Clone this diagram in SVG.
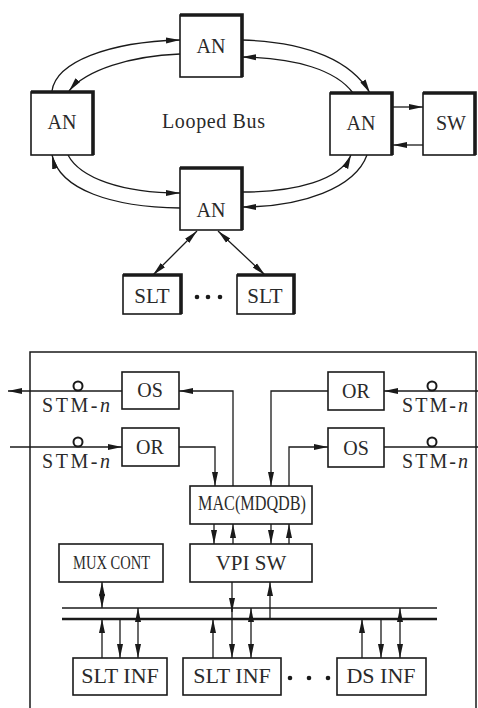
<svg xmlns="http://www.w3.org/2000/svg" width="478" height="708" viewBox="0 0 478 708">
<defs>
<marker id="ah" markerUnits="userSpaceOnUse" markerWidth="14" markerHeight="8" viewBox="0 0 14 8" refX="14" refY="4" orient="auto-start-reverse">
<path d="M0,1 L14,4 L0,7 Z" fill="#1a1a1a"/>
</marker>
</defs>
<style>
.bx{fill:#fff;stroke:#1a1a1a;stroke-width:1.6}
.sh{fill:none;stroke:#1a1a1a;stroke-width:3.6;stroke-linejoin:miter}
.ln{fill:none;stroke:#1a1a1a;stroke-width:1.3}
.a{marker-end:url(#ah)}
.aa{marker-start:url(#ah);marker-end:url(#ah)}
text{font-family:'Liberation Serif','DejaVu Serif',serif;font-size:20px;fill:#2a2a2a}
.t{text-anchor:middle}
.c{fill:#fff;stroke:#1a1a1a;stroke-width:2}
.dot{fill:#1a1a1a}
</style>
<rect x="0" y="0" width="478" height="708" fill="#fff"/>

<g id="connectors">
<path class="ln a" d="M52,91 C56,62 108,42 180,40"/>
<path class="ln a" d="M180,54 C130,56 86,70 69,91"/>
<path class="ln a" d="M242,40 C310,42 352,62 370,93"/>
<path class="ln a" d="M353,93 C336,70 296,58 242,57"/>
<path class="ln a" d="M180,208 C112,207 60,190 52,155"/>
<path class="ln a" d="M68,155 C80,178 122,193 180,193"/>
<path class="ln a" d="M367,155 C355,188 302,207 242,207"/>
<path class="ln a" d="M242,192 C296,192 340,180 351,155"/>
<path class="ln a" d="M393,107 L423,107"/>
<path class="ln a" d="M423,145 L393,145"/>
<path class="ln aa" d="M197,231 L153,275"/>
<path class="ln aa" d="M218,231 L265,275"/>

<path class="ln a" d="M179,391 L8,391"/>
<path class="ln a" d="M233,486 L233,391 L179,391"/>
<path class="ln a" d="M10,447 L122,447"/>
<path class="ln a" d="M179,447 L215,447 L215,486"/>
<path class="ln a" d="M478,391 L384,391"/>
<path class="ln a" d="M328,391 L271,391 L271,486"/>
<path class="ln a" d="M289,486 L289,447 L328,447"/>
<path class="ln" d="M384,447 L478,447"/>
<path class="ln a" d="M214,524 L214,544"/>
<path class="ln a" d="M233,544 L233,524"/>
<path class="ln a" d="M271,524 L271,544"/>
<path class="ln a" d="M289,544 L289,524"/>

<path class="ln" d="M62,608 L437,608" style="stroke-width:1.6"/>
<path class="ln" d="M62,619 L437,619" style="stroke-width:2.6"/>
<path class="ln aa" d="M102,582 L102,608"/>
<path class="ln a" d="M232,582 L232,612"/>
<path class="ln a" d="M232,608 L232,658"/>
<path class="ln a" d="M270,619 L270,582"/>
<path class="ln a" d="M102,658 L102,619"/>
<path class="ln a" d="M120,619 L120,658"/>
<path class="ln aa" d="M138,608 L138,658"/>
<path class="ln a" d="M213,658 L213,619"/>
<path class="ln aa" d="M251,608 L251,658"/>
<path class="ln a" d="M362,658 L362,619"/>
<path class="ln a" d="M381,619 L381,658"/>
<path class="ln aa" d="M400,608 L400,658"/>
</g>

<g id="an-top">
<rect class="bx" x="180" y="15" width="62" height="62"/>
<polyline class="sh" points="180,15 242,15 242,77"/>
<text class="t" x="211" y="53">AN</text>
</g>
<g id="an-left">
<rect class="bx" x="31" y="92" width="62" height="63"/>
<polyline class="sh" points="31,92 93,92 93,155"/>
<text class="t" x="62" y="129">AN</text>
</g>
<g id="an-right">
<rect class="bx" x="330" y="93" width="62" height="62"/>
<polyline class="sh" points="330,93 392,93 392,155"/>
<text class="t" x="361" y="130">AN</text>
</g>
<g id="sw">
<rect class="bx" x="423" y="93" width="52" height="62"/>
<polyline class="sh" points="423,93 475,93 475,155"/>
<text class="t" x="451" y="130">SW</text>
</g>
<g id="an-bottom">
<rect class="bx" x="180" y="168" width="62" height="62"/>
<polyline class="sh" points="180,168 242,168 242,230"/>
<text class="t" x="211" y="217">AN</text>
</g>
<g id="label-looped">
<text x="162" y="128" textLength="103" lengthAdjust="spacing">Looped Bus</text>
</g>
<g id="slt1">
<rect class="bx" x="123" y="275" width="58" height="39"/>
<polyline class="sh" points="123,275 181,275 181,314"/>
<text class="t" x="152" y="303" style="font-size:21px">SLT</text>
</g>
<g id="slt-dots">
<circle class="dot" cx="197" cy="297" r="2.3"/>
<circle class="dot" cx="208" cy="297" r="2.3"/>
<circle class="dot" cx="220" cy="297" r="2.3"/>
</g>
<g id="slt2">
<rect class="bx" x="237" y="275" width="57" height="39"/>
<polyline class="sh" points="237,275 294,275 294,314"/>
<text class="t" x="265" y="303" style="font-size:21px">SLT</text>
</g>

<g id="frame">
<rect x="30" y="352" width="446" height="370" fill="none" stroke="#1a1a1a" stroke-width="1.5"/>
</g>

<g id="os-left">
<rect class="bx" x="122" y="372" width="57" height="37"/>
<text class="t" x="150" y="397">OS</text>
</g>
<g id="or-left">
<rect class="bx" x="122" y="428" width="57" height="38"/>
<text class="t" x="150" y="454">OR</text>
</g>
<g id="or-right">
<rect class="bx" x="328" y="372" width="56" height="38"/>
<text class="t" x="356" y="398">OR</text>
</g>
<g id="os-right">
<rect class="bx" x="328" y="428" width="56" height="39"/>
<text class="t" x="356" y="455">OS</text>
</g>

<g id="stm-labels">
<circle class="c" cx="78" cy="386" r="4.5"/>
<circle class="c" cx="78" cy="442" r="4.5"/>
<circle class="c" cx="432" cy="386" r="4.5"/>
<circle class="c" cx="432" cy="442" r="4.5"/>
<text x="42" y="412" textLength="68" lengthAdjust="spacing">STM-<tspan font-style="italic">n</tspan></text>
<text x="42" y="468" textLength="68" lengthAdjust="spacing">STM-<tspan font-style="italic">n</tspan></text>
<text x="402" y="412" textLength="66" lengthAdjust="spacing">STM-<tspan font-style="italic">n</tspan></text>
<text x="402" y="468" textLength="66" lengthAdjust="spacing">STM-<tspan font-style="italic">n</tspan></text>
</g>

<g id="mac">
<rect class="bx" x="190" y="486" width="122" height="38"/>
<text x="198" y="510" textLength="108" lengthAdjust="spacingAndGlyphs">MAC(MDQDB)</text>
</g>
<g id="vpi-sw">
<rect class="bx" x="190" y="544" width="122" height="38"/>
<text class="t" x="251" y="570" style="font-size:21px">VPI SW</text>
</g>
<g id="mux-cont">
<rect class="bx" x="59" y="544" width="104" height="38"/>
<text x="73" y="569" textLength="77" lengthAdjust="spacingAndGlyphs" style="font-size:19px">MUX CONT</text>
</g>

<g id="slt-inf1">
<rect class="bx" x="73" y="658" width="94" height="37"/>
<text class="t" x="120" y="683" style="font-size:22px">SLT INF</text>
</g>
<g id="slt-inf2">
<rect class="bx" x="183" y="658" width="98" height="37"/>
<text class="t" x="232" y="683" style="font-size:22px">SLT INF</text>
</g>
<g id="inf-dots">
<circle class="dot" cx="290" cy="678" r="2.3"/>
<circle class="dot" cx="309" cy="678" r="2.3"/>
<circle class="dot" cx="328" cy="678" r="2.3"/>
</g>
<g id="ds-inf">
<rect class="bx" x="337" y="658" width="89" height="37"/>
<text class="t" x="381" y="683" style="font-size:22px">DS INF</text>
</g>
</svg>
